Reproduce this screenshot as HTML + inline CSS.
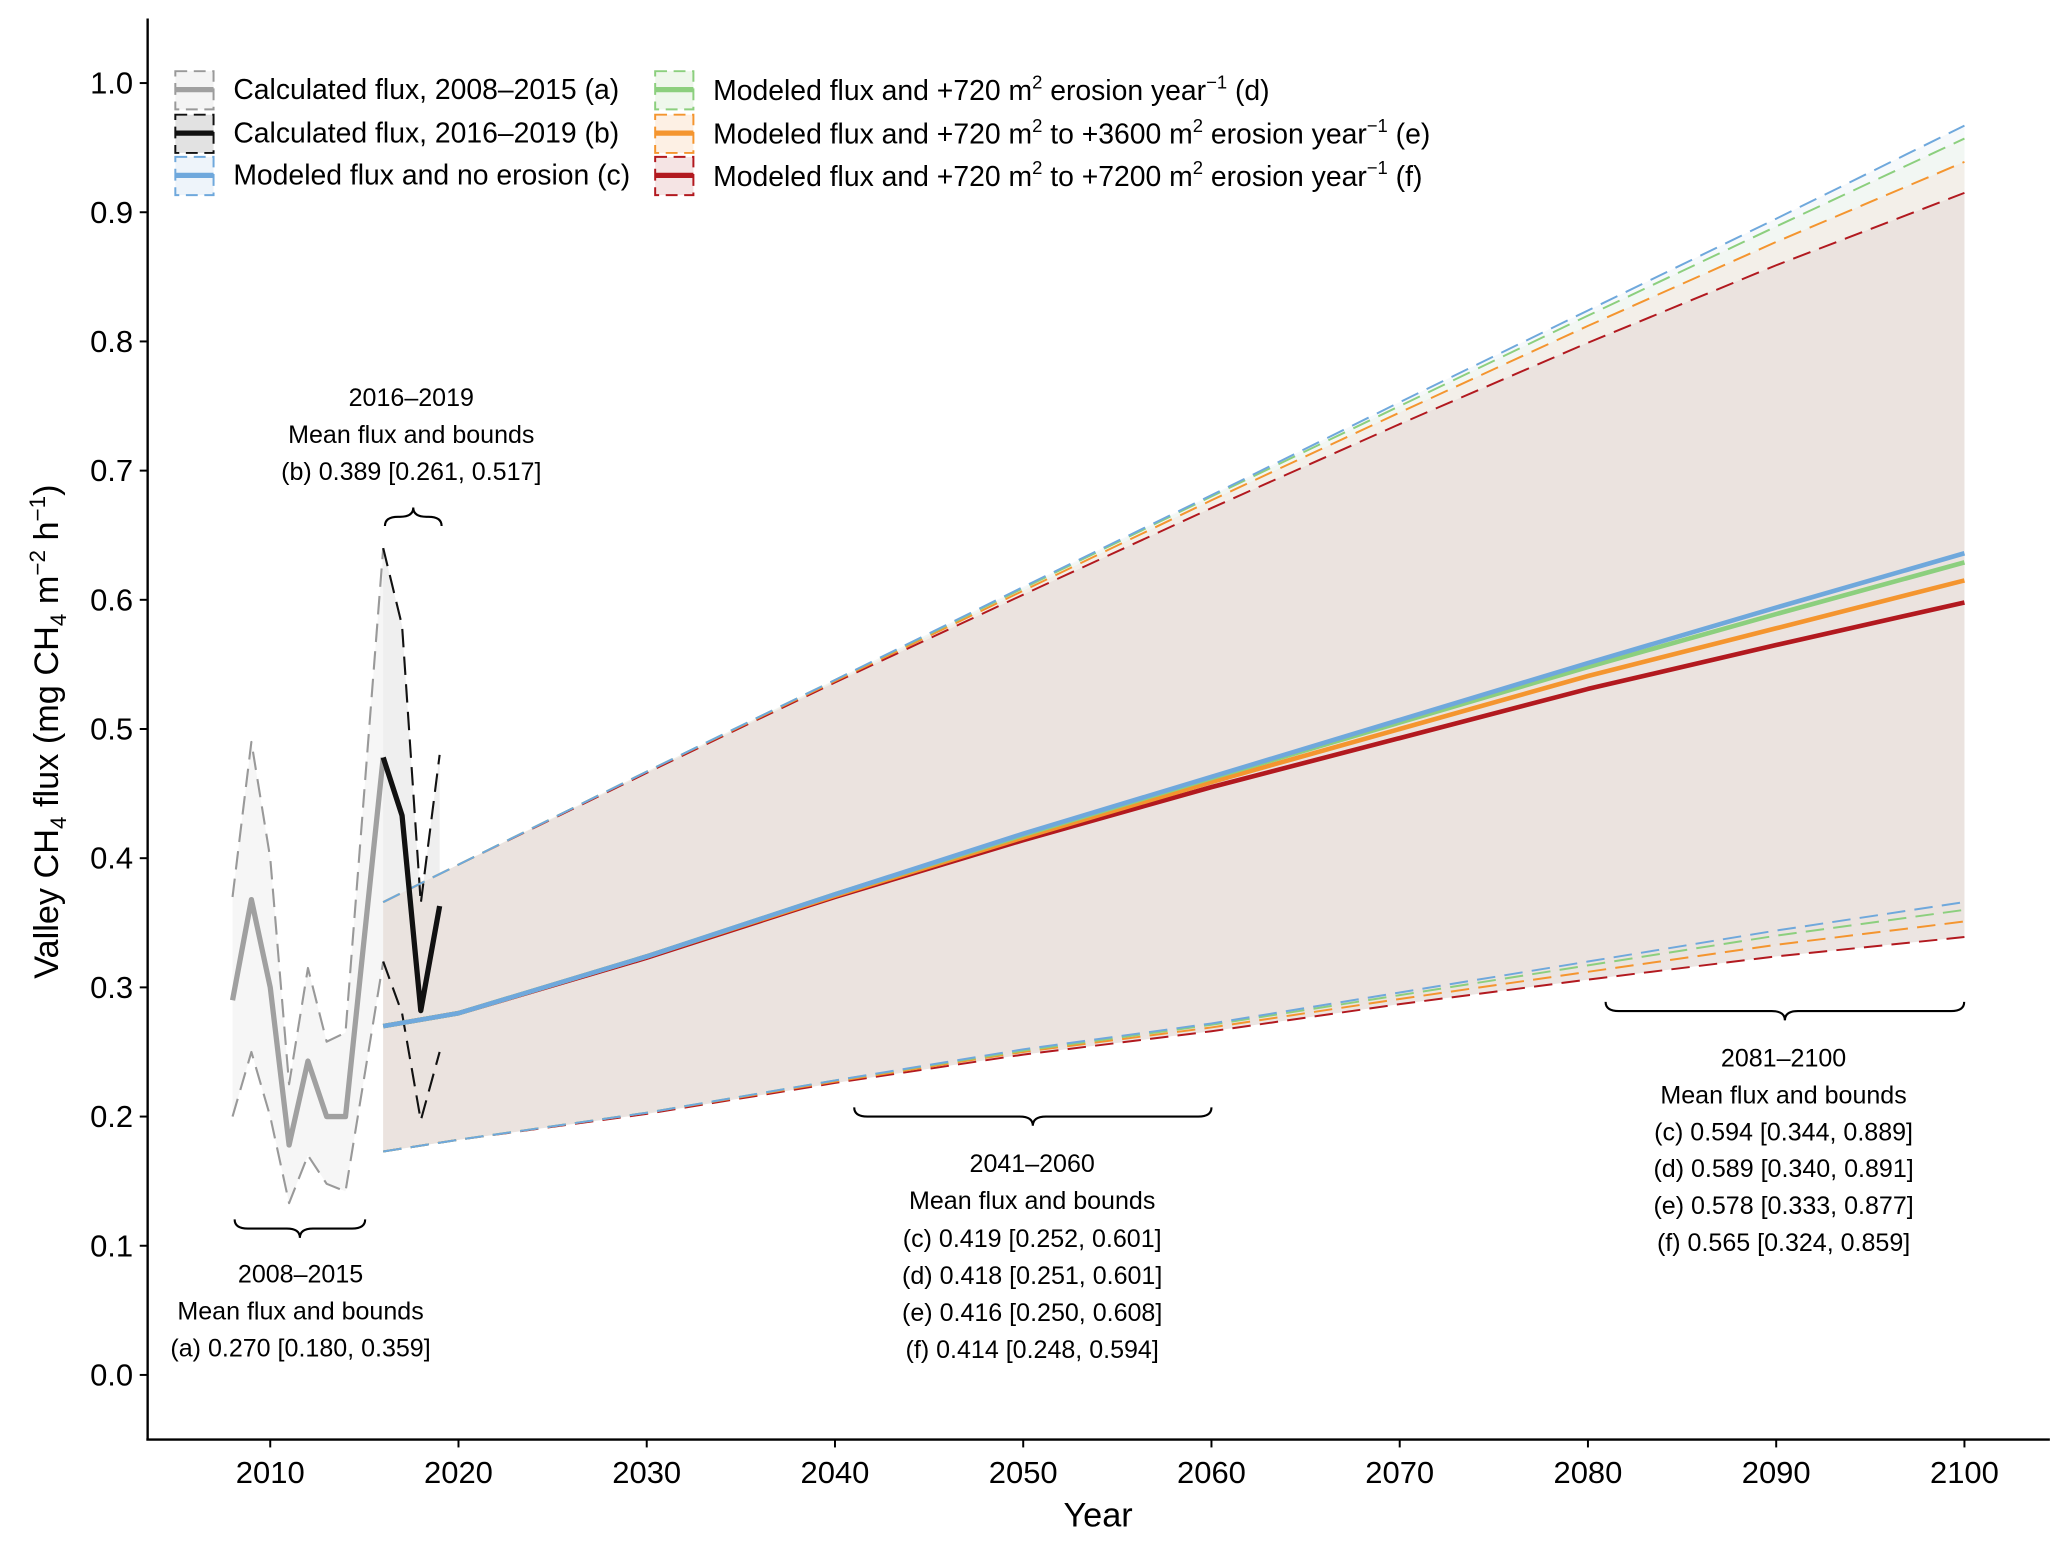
<!DOCTYPE html>
<html><head><meta charset="utf-8"><style>body{margin:0;background:#fff;position:relative}svg{display:block}text{font-family:"Liberation Sans",Arial,sans-serif;fill:#000}</style></head>
<body>
<svg id="chart" width="2067" height="1545" viewBox="0 0 1568 1172" xmlns="http://www.w3.org/2000/svg">
<g id="bands"></g><g id="lines"></g><g id="axes"></g><g id="annot"></g><g id="legend"></g>
</svg>
<script>
const histYearsA=[2008,2009,2010,2011,2012,2013,2014,2016];
const meanA=[0.290,0.368,0.300,0.178,0.243,0.200,0.200,0.478];
const upA=[0.370,0.490,0.400,0.225,0.315,0.258,0.265,0.640];
const loA=[0.200,0.250,0.200,0.133,0.170,0.148,0.142,0.320];
const histYearsB=[2016,2017,2018,2019];
const meanB=[0.478,0.433,0.282,0.363];
const upB=[0.640,0.580,0.365,0.480];
const loB=[0.320,0.280,0.197,0.250];
const modelYears=[2016,2020,2030,2040,2050,2060,2070,2080,2090,2100];
const cMean=[.270,.280,.324,.372,.419,.463,.507,.551,.594,.636];
const dMean=[.270,.280,.324,.372,.418,.462,.505,.548,.589,.629];
const eMean=[.270,.280,.324,.371,.416,.459,.500,.541,.578,.615];
const fMean=[.270,.280,.323,.370,.414,.455,.493,.531,.565,.598];
const cUp=[.366,.395,.467,.538,.610,.681,.753,.824,.895,.967];
const dUp=[.366,.395,.467,.538,.609,.680,.750,.820,.889,.957];
const eUp=[.366,.395,.467,.537,.607,.677,.745,.812,.877,.939];
const fUp=[.366,.395,.466,.536,.604,.671,.736,.799,.859,.915];
const cLo=[.173,.182,.203,.228,.252,.272,.296,.320,.344,.366];
const dLo=[.173,.182,.203,.228,.251,.271,.294,.317,.340,.360];
const eLo=[.173,.182,.203,.227,.250,.269,.291,.312,.333,.351];
const fLo=[.173,.182,.202,.226,.248,.266,.287,.306,.324,.339];
const xTicks=[2010,2020,2030,2040,2050,2060,2070,2080,2090,2100];
const yTicks=[0.0,0.1,0.2,0.3,0.4,0.5,0.6,0.7,0.8,0.9,1.0];

const NS="http://www.w3.org/2000/svg";
const X=y=>205+(y-2010)*14.28;
const Y=v=>1043-v*980;
function el(tag,attrs,parent,txt){const e=document.createElementNS(NS,tag);for(const k in attrs)e.setAttribute(k,attrs[k]);if(txt!==undefined)e.textContent=txt;parent.appendChild(e);return e;}
const g=id=>document.getElementById(id);
function pts(xs,vs){return xs.map((x,i)=>X(x).toFixed(1)+","+Y(vs[i]).toFixed(1)).join(" ");}
function band(xs,up,lo,fill,op,name){
  const p=pts(xs,up)+" "+pts(xs.slice().reverse(),lo.slice().reverse());
  const e=el("polygon",{points:p,fill:fill,"fill-opacity":op},g("bands"));
  
  
}
function line(xs,vs,col,w,dash,name){
  const e=el("polyline",{points:pts(xs,vs),fill:"none",stroke:col,"stroke-width":w,"stroke-dasharray":dash||"none","stroke-linejoin":"round"},g("lines"));
  
  
}
band(histYearsA,upA,loA,"#f2f2f2",0.7,"band-a");
band(histYearsB,upB,loB,"#e4e4e4",0.6,"band-b");
band(modelYears,cUp,cLo,"#eef4f8",0.5,"band-c");
band(modelYears,dUp,dLo,"#eef5ec",0.5,"band-d");
band(modelYears,eUp,eLo,"#f3e8e0",0.5,"band-e");
band(modelYears,fUp,fLo,"#e9e0dd",0.85,"band-f");
const D="14,7";
line(histYearsA,upA,"#999",1.6,D,"upper-bound-a");
line(histYearsA,loA,"#999",1.6,D,"lower-bound-a");
line(histYearsB,upB,"#111",1.6,D,"upper-bound-b");
line(histYearsB,loB,"#111",1.6,D,"lower-bound-b");
const series=[["c","#6fa8dc",cMean,cUp,cLo],["d","#8ccf7e",dMean,dUp,dLo],["e","#f4952f",eMean,eUp,eLo],["f","#b2191f",fMean,fUp,fLo]];
series.slice().reverse().forEach(s=>{line(modelYears,s[3],s[1],1.5,D,"upper-bound-"+s[0]);line(modelYears,s[4],s[1],1.5,D,"lower-bound-"+s[0]);});
line(histYearsA,meanA,"#a0a0a0",4,null,"mean-line-a");
line(histYearsB,meanB,"#111",4,null,"mean-line-b");
series.slice().reverse().forEach(s=>line(modelYears,s[2],s[1],3.5,null,"mean-line-"+s[0]));

const ax=g("axes");
let e=el("line",{x1:112,y1:14,x2:112,y2:1092,stroke:"#000","stroke-width":1.8},ax);


e=el("line",{x1:111,y1:1092,x2:1555,y2:1092,stroke:"#000","stroke-width":1.8},ax);


yTicks.forEach(v=>{el("line",{x1:106,y1:Y(v),x2:112,y2:Y(v),stroke:"#000","stroke-width":1.5},ax);
  const t=el("text",{x:101,y:Y(v)+8,"text-anchor":"end","font-size":23.5},ax,v.toFixed(1));
  
  });
xTicks.forEach(v=>{el("line",{x1:X(v),y1:1092,x2:X(v),y2:1098,stroke:"#000","stroke-width":1.5},ax);
  const t=el("text",{x:X(v),y:1125,"text-anchor":"middle","font-size":23.5},ax,v);
  
  });
</script>
<script>
(function(){
const an=document.getElementById("annot");
function brace(x1,x2,y0,d,name){
  const h=7*d,m=(x1+x2)/2,r=10;
  const p=`M${x1},${y0} Q${x1},${y0+h} ${x1+r},${y0+h} L${m-r},${y0+h} Q${m},${y0+h} ${m},${y0+2*h} Q${m},${y0+h} ${m+r},${y0+h} L${x2-r},${y0+h} Q${x2},${y0+h} ${x2},${y0}`;
  const e=document.createElementNS("http://www.w3.org/2000/svg","path");
  e.setAttribute("d",p);e.setAttribute("fill","none");e.setAttribute("stroke","#000");e.setAttribute("stroke-width","1.6");
  
  
  an.appendChild(e);
}
brace(178,277,925,1,"brace-2008-2015");
brace(292,335,399,-1,"brace-2016-2019");
brace(648,919,840,1,"brace-2041-2060");
brace(1218,1490,760,1,"brace-2081-2100");
})();
</script>
<svg style="position:absolute;left:0;top:0" width="2067" height="1545" viewBox="0 0 1568 1172" xmlns="http://www.w3.org/2000/svg">
<g font-size="19" text-anchor="middle" font-family="Liberation Sans, sans-serif">
<text><tspan x="228" y="973">2008–2015</tspan><tspan x="228" y="1001">Mean flux and bounds</tspan><tspan x="228" y="1029">(a) 0.270 [0.180, 0.359]</tspan></text>
<text><tspan x="312" y="308">2016–2019</tspan><tspan x="312" y="336">Mean flux and bounds</tspan><tspan x="312" y="364">(b) 0.389 [0.261, 0.517]</tspan></text>
<text><tspan x="783" y="889">2041–2060</tspan><tspan x="783" y="917">Mean flux and bounds</tspan><tspan x="783" y="946">(c) 0.419 [0.252, 0.601]</tspan><tspan x="783" y="974">(d) 0.418 [0.251, 0.601]</tspan><tspan x="783" y="1002">(e) 0.416 [0.250, 0.608]</tspan><tspan x="783" y="1030">(f) 0.414 [0.248, 0.594]</tspan></text>
<text><tspan x="1353" y="809">2081–2100</tspan><tspan x="1353" y="837">Mean flux and bounds</tspan><tspan x="1353" y="865">(c) 0.594 [0.344, 0.889]</tspan><tspan x="1353" y="893">(d) 0.589 [0.340, 0.891]</tspan><tspan x="1353" y="921">(e) 0.578 [0.333, 0.877]</tspan><tspan x="1353" y="949">(f) 0.565 [0.324, 0.859]</tspan></text>
</g>
<text x="833" y="1158" font-size="26" text-anchor="middle" font-family="Liberation Sans, sans-serif">Year</text>
<text transform="translate(44,555) rotate(-90)" font-size="26" text-anchor="middle" font-family="Liberation Sans, sans-serif">Valley CH<tspan font-size="17" dy="6">4</tspan><tspan dy="-6"> flux (mg CH</tspan><tspan font-size="17" dy="6">4</tspan><tspan dy="-6"> m</tspan><tspan font-size="17" dy="-10">−2</tspan><tspan dy="10"> h</tspan><tspan font-size="17" dy="-10">−1</tspan><tspan dy="10">)</tspan></text>
<g font-size="21.5" font-family="Liberation Sans, sans-serif">
<g><rect x="133" y="54" width="29" height="29" fill="#f4f4f4" stroke="#999" stroke-width="1.5" stroke-dasharray="9,5"/><line x1="133" y1="68" x2="162" y2="68" stroke="#a0a0a0" stroke-width="4"/><text x="177" y="75">Calculated flux, 2008–2015 (a)</text></g>
<g><rect x="133" y="87" width="29" height="29" fill="#e2e2e2" stroke="#111" stroke-width="1.5" stroke-dasharray="9,5"/><line x1="133" y1="101" x2="162" y2="101" stroke="#111" stroke-width="4"/><text x="177" y="108">Calculated flux, 2016–2019 (b)</text></g>
<g><rect x="133" y="119" width="29" height="29" fill="#eef4fa" stroke="#6fa8dc" stroke-width="1.5" stroke-dasharray="9,5"/><line x1="133" y1="133" x2="162" y2="133" stroke="#6fa8dc" stroke-width="4"/><text x="177" y="140">Modeled flux and no erosion (c)</text></g>
<g><rect x="497" y="54" width="29" height="29" fill="#eff7ec" stroke="#8ccf7e" stroke-width="1.5" stroke-dasharray="9,5"/><line x1="497" y1="68" x2="526" y2="68" stroke="#8ccf7e" stroke-width="4"/><text x="541" y="76">Modeled flux and +720 m<tspan font-size="14" dy="-9">2</tspan><tspan dy="9"> erosion year</tspan><tspan font-size="14" dy="-9">−1</tspan><tspan dy="9"> (d)</tspan></text></g>
<g><rect x="497" y="87" width="29" height="29" fill="#fdf0e4" stroke="#f4952f" stroke-width="1.5" stroke-dasharray="9,5"/><line x1="497" y1="101" x2="526" y2="101" stroke="#f4952f" stroke-width="4"/><text x="541" y="109">Modeled flux and +720 m<tspan font-size="14" dy="-9">2</tspan><tspan dy="9"> to +3600 m</tspan><tspan font-size="14" dy="-9">2</tspan><tspan dy="9"> erosion year</tspan><tspan font-size="14" dy="-9">−1</tspan><tspan dy="9"> (e)</tspan></text></g>
<g><rect x="497" y="119" width="29" height="29" fill="#f5e4e4" stroke="#b2191f" stroke-width="1.5" stroke-dasharray="9,5"/><line x1="497" y1="133" x2="526" y2="133" stroke="#b2191f" stroke-width="4"/><text x="541" y="141">Modeled flux and +720 m<tspan font-size="14" dy="-9">2</tspan><tspan dy="9"> to +7200 m</tspan><tspan font-size="14" dy="-9">2</tspan><tspan dy="9"> erosion year</tspan><tspan font-size="14" dy="-9">−1</tspan><tspan dy="9"> (f)</tspan></text></g>
</g>
</svg>
</body></html>
